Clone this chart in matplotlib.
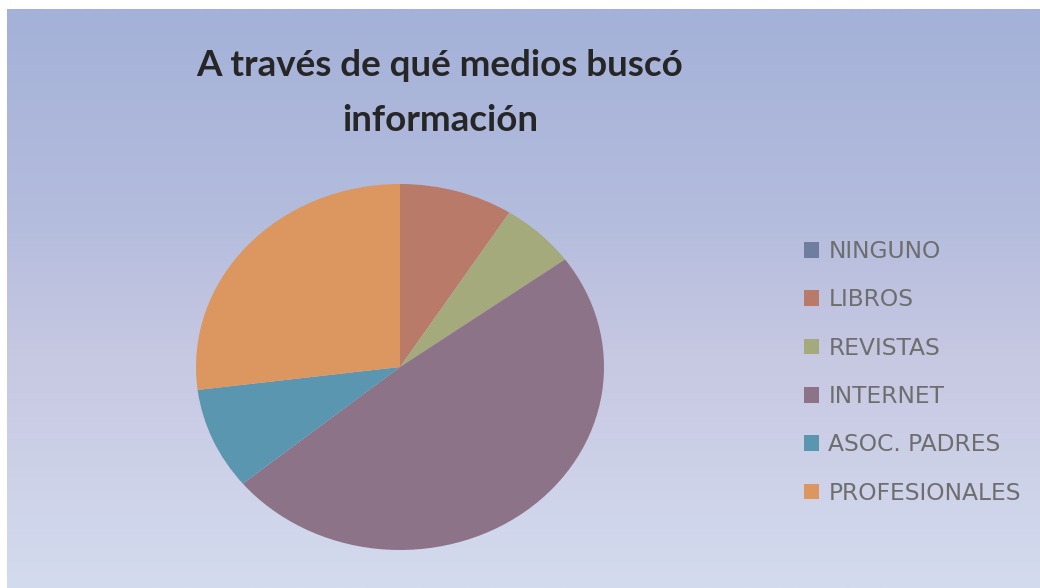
import numpy as np
import matplotlib
matplotlib.use("Agg")
import matplotlib.pyplot as plt
from matplotlib.colors import LinearSegmentedColormap

categories = ["NINGUNO", "LIBROS", "REVISTAS", "INTERNET", "ASOC. PADRES", "PROFESIONALES"]
values = [0, 9, 6, 49, 9, 27]
colors = ["#6e7da0", "#b97a69", "#a5aa7d", "#8c7387", "#5a96af", "#dc965f"]
title = "A través de qué medios buscó\ninformación"

W, H = 1040, 588
fig = plt.figure(figsize=(W / 100, H / 100), dpi=100)
fig.patch.set_facecolor("white")

# background gradient (leaving white strips at left and top)
bg = fig.add_axes([7 / W, 0, 1 - 7 / W, 1 - 9 / H])
bg.set_axis_off()
cmap = LinearSegmentedColormap.from_list(
    "bg", [(0.0, "#a4b1d8"), (0.35, "#b3bcdd"), (0.6, "#c7c8e2"), (1.0, "#d3dbee")])
grad = np.linspace(0, 1, 256).reshape(-1, 1)
bg.imshow(grad, aspect="auto", cmap=cmap, extent=[0, 1, 0, 1], origin="upper")

# pie axes: ellipse centre (400,367), rx 204, ry 183
cx, cy, rx, ry = 400, 367, 204, 183
pad = 1.1
ax = fig.add_axes([(cx - rx * pad) / W, (H - cy - ry * pad) / H,
                   2 * rx * pad / W, 2 * ry * pad / H])
wedges, _ = ax.pie(values, colors=colors, startangle=90, counterclock=False,
                   radius=1, wedgeprops=dict(linewidth=0))
ax.set_aspect("auto")
ax.set_xlim(-pad, pad)
ax.set_ylim(-pad, pad)
ax.set_axis_off()

fig.text(440 / W, 1 - 93 / H, title, ha="center", va="center",
         fontsize=26.5, fontweight="bold", family="Lato", color="#262626",
         linespacing=1.85)

leg = fig.legend(wedges, categories, loc="upper left",
                 bbox_to_anchor=(804 / W, 1 - 240 / H), frameon=False,
                 prop=dict(family="DejaVu Sans", size=16.8),
                 labelcolor="#6e6e6e", handlelength=0.65, handleheight=0.65,
                 handletextpad=0.4, labelspacing=1.085, borderaxespad=0,
                 borderpad=0)

fig.savefig("out.png", dpi=100)
